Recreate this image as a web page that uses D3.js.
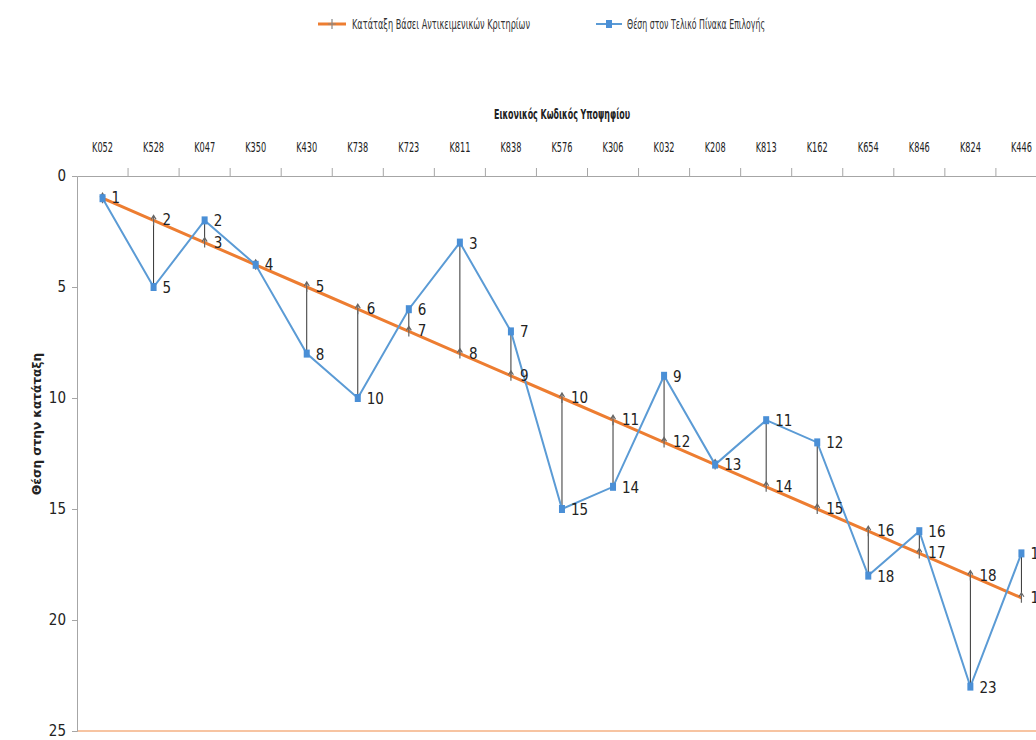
<!DOCTYPE html>
<html><head><meta charset="utf-8">
<script src="https://cdn.jsdelivr.net/npm/d3@7"></script>
<style>body{margin:0;background:#fff}svg{display:block} text{font-stretch:condensed}</style>
</head><body>
<svg id="c" width="1036" height="740"></svg>
<script>
const categories = ["K052","K528","K047","K350","K430","K738","K723","K811","K838","K576","K306","K032","K208","K813","K162","K654","K846","K824","K446"];
const objectiveRank = [1,2,3,4,5,6,7,8,9,10,11,12,13,14,15,16,17,18,19];
const finalRank = [1,5,2,4,8,10,6,3,7,15,14,9,13,11,12,18,16,23,17];
const yTicks = [0,5,10,15,20,25];
const seriesNames = ["Κατάταξη Βάσει Αντικειμενικών Κριτηρίων","Θέση στον Τελικό Πίνακα Επιλογής"];
const xTitle = "Εικονικός Κωδικός Υποψηφίου";
const yTitle = "Θέση στην κατάταξη";

const font = "'DejaVu Sans Condensed','DejaVu Sans',sans-serif";
const orange = "#ed7d31", blue = "#5b9bd5";
const svg = d3.select("#c");
const L = 77, T = 176, B = 731;
const x = d3.scaleBand().domain(categories).range([L, L + 51.05*categories.length]);
const y = d3.scaleLinear().domain([0,25]).range([T,B]);
const cx = d => x(d) + x.bandwidth()/2;

// bottom orange line
svg.append("line").attr("x1",L).attr("x2",1036).attr("y1",B).attr("y2",B)
  .attr("stroke","#f4b183").attr("stroke-width",1.5);

// top axis
const xa = svg.append("g").attr("transform",`translate(0,${T})`)
  .call(d3.axisTop(x).tickSize(0).tickPadding(24));
xa.select(".domain").attr("stroke","#a6a6a6");
xa.selectAll("text").attr("font-family",font).attr("font-size",14).attr("fill","#222")
  .attr("textLength",21).attr("lengthAdjust","spacingAndGlyphs");
// category boundary ticks
svg.append("g").selectAll("line").data(categories.slice(1)).join("line")
  .attr("x1",d=>x(d)).attr("x2",d=>x(d)).attr("y1",T-8).attr("y2",T)
  .attr("stroke","#a6a6a6");

// left axis
const ya = svg.append("g").attr("transform",`translate(${L},0)`)
  .call(d3.axisLeft(y).tickValues(yTicks).tickSize(5).tickPadding(6));
ya.select(".domain").attr("stroke","#a6a6a6");
ya.selectAll(".tick line").attr("stroke","#a6a6a6");
ya.selectAll("text").attr("font-family",font).attr("font-size",15).attr("fill","#222");

// titles
svg.append("text").attr("x",562).attr("y",119).attr("text-anchor","middle")
  .attr("font-family",font).attr("font-size",14).attr("font-weight","bold").attr("fill","#222")
  .attr("textLength",136).attr("lengthAdjust","spacingAndGlyphs").text(xTitle);
svg.append("text").attr("transform","translate(41,424) rotate(-90)").attr("text-anchor","middle")
  .attr("font-family","'DejaVu Sans',sans-serif").attr("font-size",12).attr("font-weight","bold")
  .attr("textLength",142).attr("lengthAdjust","spacingAndGlyphs").attr("fill","#222").text(yTitle);

// high-low lines
svg.append("g").selectAll("line").data(categories).join("line")
  .attr("x1",cx).attr("x2",cx)
  .attr("y1",(d,i)=>y(objectiveRank[i])).attr("y2",(d,i)=>y(finalRank[i]))
  .attr("stroke","#333").attr("stroke-width",1);

// orange line
const line = d3.line().x(d=>cx(d[0])).y(d=>y(d[1]));
svg.append("path").datum(categories.map((c,i)=>[c,objectiveRank[i]]))
  .attr("d",line).attr("fill","none").attr("stroke",orange).attr("stroke-width",3);
// orange markers (small arrows)
svg.append("g").selectAll("path").data(categories).join("path")
  .attr("d",(d,i)=>{const X=cx(d),Y=y(objectiveRank[i]);return `M${X},${Y-5}L${X},${Y+5}M${X-2.5},${Y-1}L${X},${Y-5}L${X+2.5},${Y-1}`;})
  .attr("stroke","#666").attr("stroke-width",1.2).attr("fill","none");

// blue line
svg.append("path").datum(categories.map((c,i)=>[c,finalRank[i]]))
  .attr("d",line).attr("fill","none").attr("stroke",blue).attr("stroke-width",2);
svg.append("g").selectAll("rect").data(categories).join("rect")
  .attr("x",d=>cx(d)-3).attr("y",(d,i)=>y(finalRank[i])-4).attr("width",6).attr("height",8)
  .attr("fill","#4a8fd6");

// labels
const lab = svg.append("g").attr("font-family",font).attr("font-size",15).attr("fill","#222");
categories.forEach((c,i)=>{
  lab.append("text").attr("x",cx(c)+9).attr("y",y(objectiveRank[i])+5).text(objectiveRank[i]);
  if (finalRank[i]!==objectiveRank[i])
    lab.append("text").attr("x",cx(c)+9).attr("y",y(finalRank[i])+6).text(finalRank[i]);
});

// legend
const lg = svg.append("g").attr("font-family",font).attr("font-size",14).attr("fill","#333");
lg.append("line").attr("x1",318).attr("x2",346).attr("y1",24).attr("y2",24).attr("stroke",orange).attr("stroke-width",3);
lg.append("path").attr("d","M332,19L332,29M328,24L336,24").attr("stroke","#888").attr("stroke-width",1.2);
lg.append("text").attr("x",352).attr("y",29).attr("textLength",178).attr("lengthAdjust","spacingAndGlyphs").text(seriesNames[0]);
lg.append("line").attr("x1",596).attr("x2",622).attr("y1",24).attr("y2",24).attr("stroke",blue).attr("stroke-width",2);
lg.append("rect").attr("x",606).attr("y",20).attr("width",6).attr("height",8).attr("fill","#4a8fd6");
lg.append("text").attr("x",627).attr("y",29).attr("textLength",138).attr("lengthAdjust","spacingAndGlyphs").text(seriesNames[1]);
</script>
</body></html>
